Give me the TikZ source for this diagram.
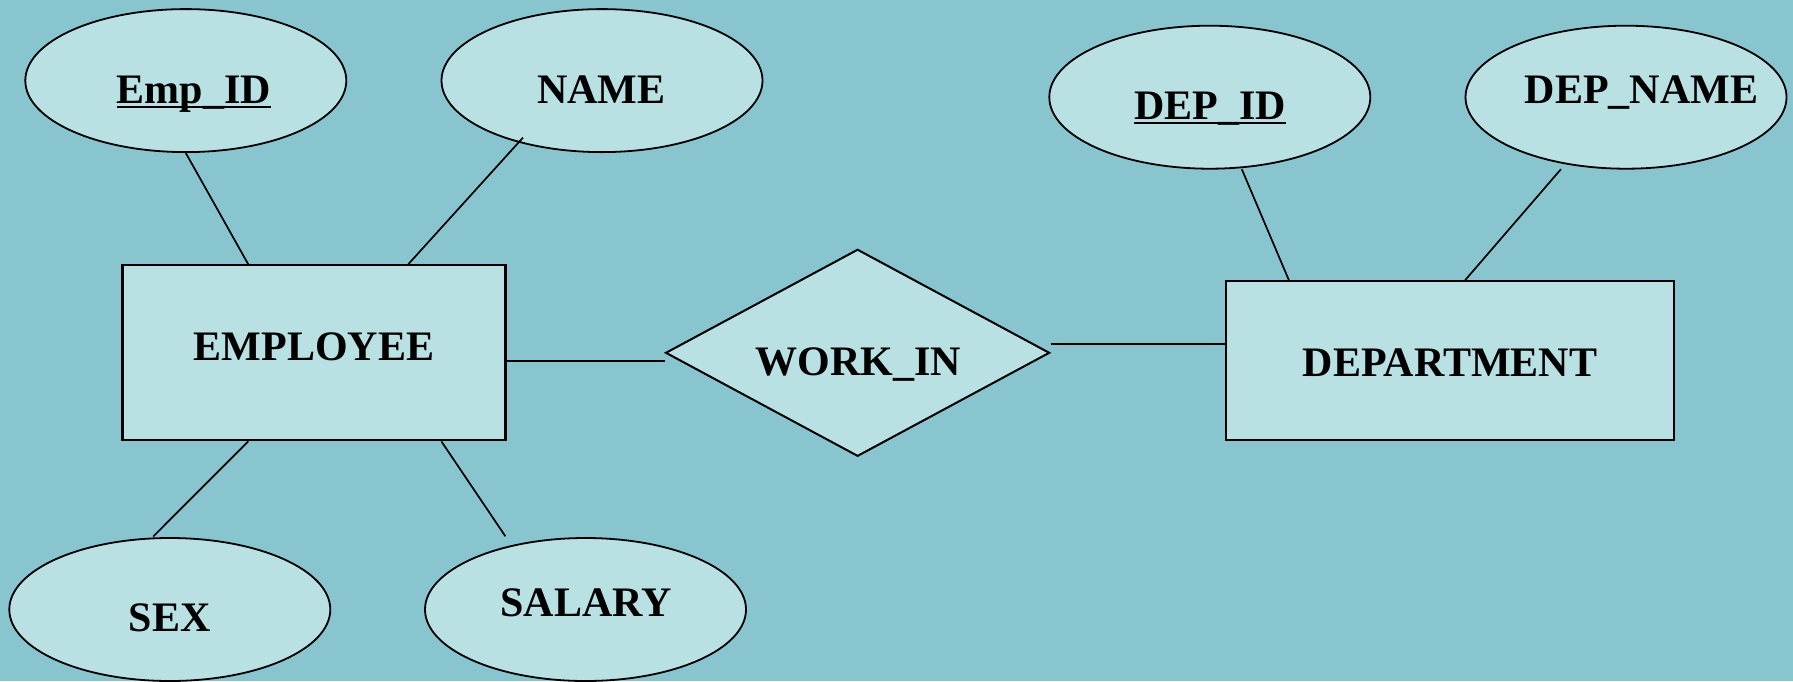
\documentclass[tikz,border=0pt]{standalone}
\usepackage{fontspec}
\setmainfont{Liberation Serif}
\usetikzlibrary{shapes.geometric,calc}
\definecolor{bgteal}{RGB}{137,197,206}
\definecolor{shapefill}{RGB}{185,224,227}
% key attribute: text with a rule just under its baseline
\newcommand\keyattr[1]{\setbox0\hbox{#1}\rlap{\rule[-4.6pt]{\wd0}{2pt}}\box0}
\begin{document}
\begin{tikzpicture}[x=1pt,y=-1pt,
  attr/.style={ellipse,draw,line width=1.8pt,fill=shapefill,inner sep=0pt,
               minimum width=321pt,minimum height=143pt},
  entity/.style={rectangle,draw,line width=2.2pt,fill=shapefill,inner sep=0pt},
  rel/.style={diamond,draw,line width=2pt,fill=shapefill,inner sep=0pt,
              minimum width=384pt,minimum height=207pt},
  lbl/.style={anchor=base,inner sep=0pt,font=\fontsize{42}{48}\selectfont\bfseries},
  link/.style={line width=1.7pt}]
\useasboundingbox[fill=bgteal] (0,0) rectangle (1793,681);

% shapes
\node[attr] (empid) at (185.8,80.6) {};
\node[attr] (name) at (602,80.6) {};
\node[attr] (depid) at (1209.8,97.2) {};
\node[attr] (depname) at (1626,97.2) {};
\node[attr] (sex) at (169.8,609.5) {};
\node[attr] (salary) at (585.5,609.5) {};
\node[entity,minimum width=383pt,minimum height=175pt] (emp) at (313.9,352.8) {};
\node[entity,minimum width=448pt,minimum height=159pt] (dept) at (1450,360.8) {};
\node[rel] (work) at (857.6,352.8) {};

% labels
\node[lbl] (tEmpid) at (193.8,103) {\keyattr{Emp\_ID}};
\node[lbl] (tName) at (601.5,103) {NAME};
\node[lbl] (tDepid) at (1210,119) {\keyattr{DEP\_ID}};
\node[lbl] (tDepname) at (1641.5,103) {DEP\_NAME};
\node[lbl] (tSex) at (169.8,631) {SEX};
\node[lbl] (tSalary) at (586,616) {SALARY};
\node[lbl] (tEmp) at (313.9,360) {EMPLOYEE};
\node[lbl] (tWork) at (858.2,375.5) {WORK\_IN};
\node[lbl] (tDept) at (1450,376) {DEPARTMENT};

% connectors
\draw[link] (empid.south) -- ($(emp.north west)+(126.9,0)$);
\draw[link] ($(name.center)+(-79,57)$) -- ($(emp.north west)+(287,0)$);
\draw[link] ($(emp.south west)+(126.9,0)$) -- ($(sex.center)+(-16.6,-73)$);
\draw[link] ($(emp.south west)+(320.1,0)$) -- ($(salary.center)+(-80.1,-73.2)$);
\draw[link] ($(emp.east)+(0,8.5)$) -- ($(work.west)+(0,8.5)$);
\draw[link] ($(work.east)+(0,-8.6)$) -- ($(dept.west)+(0,-16.6)$);
\draw[link] ($(depid.center)+(32,72)$) -- ($(dept.north west)+(64,0)$);
\draw[link] ($(depname.center)+(-65.1,72)$) -- ($(dept.north west)+(240.2,0)$);
\end{tikzpicture}
\end{document}
